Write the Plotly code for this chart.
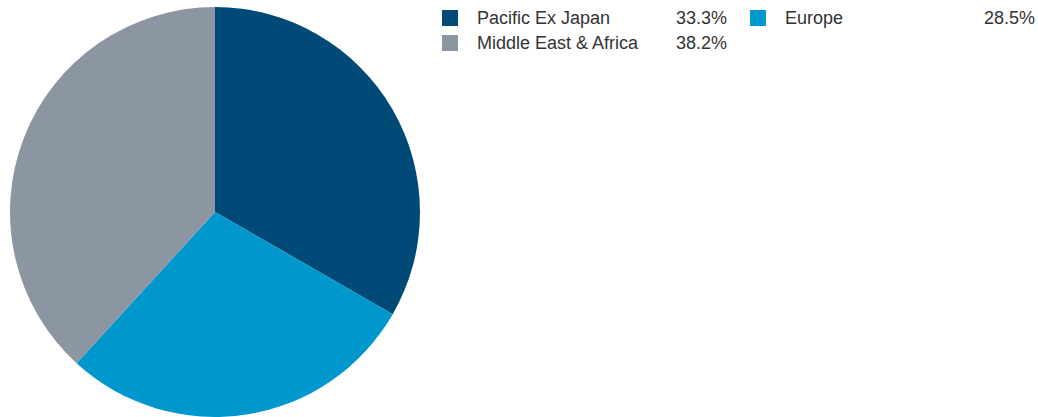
import plotly.graph_objects as go

labels = ["Pacific Ex Japan", "Europe", "Middle East & Africa"]
values = [33.3, 28.5, 38.2]
colors = ["#004A78", "#0098CC", "#8C96A2"]

W, H = 1038, 417


def px_x(x):
    return min(max(x / W, 0), 1)


def px_y(y):
    return min(max(1 - y / H, 0), 1)


fig = go.Figure()
fig.add_trace(go.Pie(
    labels=labels, values=values, sort=False, direction="clockwise", rotation=0,
    marker=dict(colors=colors, line=dict(width=0)),
    textinfo="none", hoverinfo="label+percent", showlegend=False,
    domain=dict(x=[px_x(10), px_x(420)], y=[px_y(417), px_y(7)]),
))

# legend layout: column positions (px) for item index order
slots = [(442, 18), (750, 18), (442, 43)]
pct_right = [727, 1035, 727]
font = dict(size=18, color="#333333", family="Liberation Sans, Arial")
shapes = []
annotations = []
for i, (lab, val, col) in enumerate(zip(labels, values, colors)):
    x0, yc = slots[i]
    shapes.append(dict(type="rect", xref="paper", yref="paper",
                       x0=px_x(x0), x1=px_x(x0 + 16),
                       y0=px_y(yc + 8), y1=px_y(yc - 8),
                       fillcolor=col, line=dict(width=0)))
    annotations.append(dict(xref="paper", yref="paper", x=px_x(x0 + 35), y=px_y(yc),
                            text=lab, showarrow=False, xanchor="left", yanchor="middle",
                            xshift=-2, font=font))
    annotations.append(dict(xref="paper", yref="paper", x=px_x(pct_right[i]), y=px_y(yc),
                            text=f"{val:.1f}%", showarrow=False, xanchor="right", yanchor="middle",
                            xshift=2, font=font))

fig.update_layout(width=W, height=H, margin=dict(l=0, r=0, t=0, b=0),
                  paper_bgcolor="white", plot_bgcolor="white",
                  shapes=shapes, annotations=annotations)
fig.write_html("out.html", config={"displayModeBar": False},
               post_script="document.body.style.margin='0';document.body.style.overflow='hidden';")
